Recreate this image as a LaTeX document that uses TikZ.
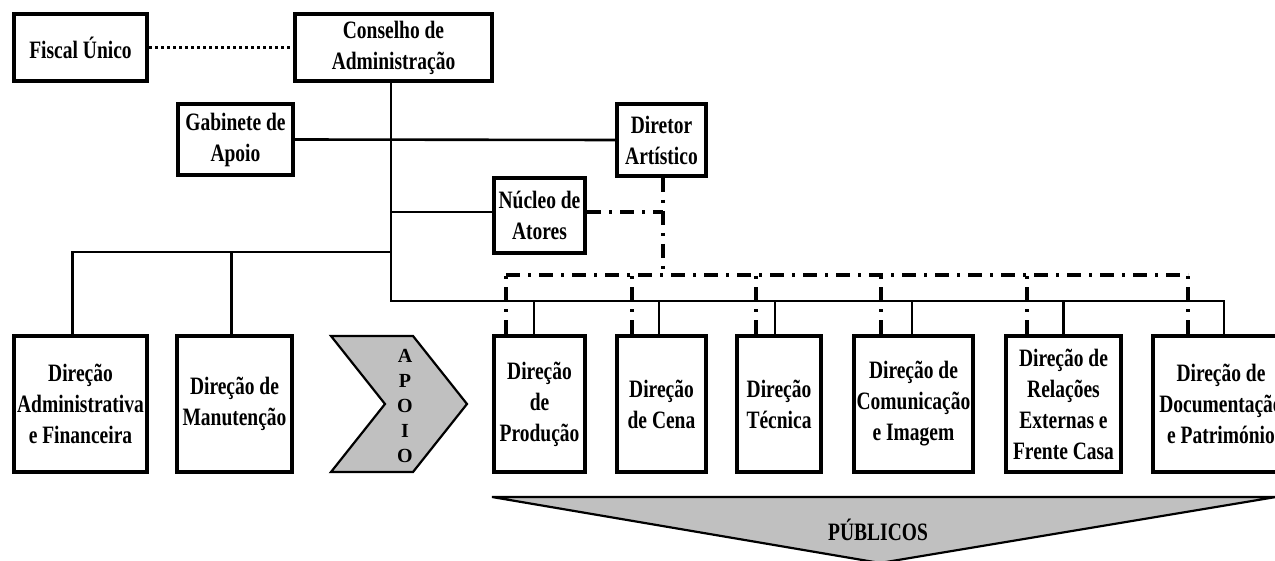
\documentclass[tikz,border=0pt]{standalone}
\usepackage{fontspec}
\setmainfont{Liberation Serif}[FakeStretch=0.78]
\newfontfamily\apoiofont{Liberation Serif}
\definecolor{apgray}{HTML}{C0C0C0}
\begin{document}
\begin{tikzpicture}[x=0.5pt,y=-0.5pt,
  box/.style={draw, line width=2pt, fill=white, inner sep=0pt, align=center,
    font=\bfseries\fontsize{12.5}{15.5}\selectfont},
  conn/.style={line width=1.3pt},
  dashdot/.style={line width=1.6pt, dash pattern=on 7pt off 4pt on 1.5pt off 4pt},
  dotline/.style={line width=1.7pt, dash pattern=on 1.5pt off 1.5pt},
  shapefill/.style={draw, line width=1.1pt, fill=apgray},
  lbl/.style={inner sep=0pt, align=center, font=\bfseries\fontsize{12.5}{15.5}\selectfont}]
\useasboundingbox (0,0) rectangle (1275,561);
\clip (0,0) rectangle (1275,561);

% top nodes
\node[box, minimum width=66.5pt, minimum height=33.5pt] (fiscal) at (80.5,47.5) {Fiscal Único};
\node[box, minimum width=98.5pt, minimum height=33.5pt] (conselho) at (393.5,47.5) {Conselho de\\Administração};
\node[box, minimum width=57.5pt, minimum height=35.5pt] (gabinete) at (235.5,139.5) {Gabinete de\\Apoio};
\node[box, minimum width=44.5pt, minimum height=36pt] (diretor) at (661.5,140) {Diretor\\Artístico};
\node[box, minimum width=45.5pt, minimum height=37.5pt] (nucleo) at (539.5,215.5) {Núcleo de\\Atores};

% bottom nodes
\node[box, minimum width=66.5pt, minimum height=68pt] (admin) at (80.5,404) {Direção\\Administrativa\\e Financeira};
\node[box, minimum width=57.5pt, minimum height=68pt] (manut) at (234.5,404) {Direção de\\Manutenção};
\node[box, minimum width=45.5pt, minimum height=68pt] (prod) at (539.5,404) {Direção\\de\\Produção};
\node[box, minimum width=44.5pt, minimum height=68pt] (cena) at (661.5,404) {Direção\\de Cena};
\node[box, minimum width=42pt, minimum height=68pt] (tecnica) at (779,404) {Direção\\Técnica};
\node[box, minimum width=59.5pt, minimum height=68pt] (comunic) at (913.5,404) {Direção de\\Comunicação\\e Imagem};
\node[box, minimum width=57.5pt, minimum height=68pt] (relac) at (1063.5,404) {Direção de\\Relações\\Externas e\\Frente Casa};
\node[box, minimum width=68pt, minimum height=68pt] (doc) at (1221,404) {Direção de\\Documentação\\e Património};

% helper coordinates
\coordinate (bus) at (391,301);
\coordinate (busL) at (391,252);
\coordinate (dbusL) at (506,275);
\coordinate (dbusR) at (1188,275);
\coordinate (dirdrop) at ([xshift=0.75pt]diretor.south);

% solid connectors
\draw[dotline] (fiscal.east) -- (conselho.west);
\draw[conn] ([xshift=-1.25pt]conselho.south) -- (bus) -| ([xshift=1.5pt]doc.north);
\draw[conn] (gabinete.east) -- (diretor.west);
\draw[conn] ([yshift=1.75pt]nucleo.west -| bus) -- ([yshift=1.75pt]nucleo.west);
\draw[conn] ([xshift=-4pt]admin.north) |- (busL);
\draw[conn] ([xshift=-1.5pt]manut.north) -- ([xshift=-1.5pt]manut.north |- busL);
\foreach \n/\s in {prod/-2.75, cena/-1.25, tecnica/-2, comunic/-0.75, relac/0}
  \draw[conn] ([xshift=\s pt]\n.north) -- ([xshift=\s pt]\n.north |- bus);

% dash-dot connectors
\draw[dashdot] (dbusL) -- (dbusR);
\draw[dashdot] (dirdrop) -- (dirdrop |- dbusL);
\draw[dashdot] ([yshift=1.75pt]nucleo.east) -- ([yshift=1.75pt]dirdrop |- nucleo.east);
\foreach \n/\s in {prod/-16.75, cena/-14.75, tecnica/-11.5, comunic/-16.25, relac/-18.25, doc/-16.5}
  \draw[dashdot] ([xshift=\s pt]\n.north) -- ([xshift=\s pt]\n.north |- dbusL);

% APOIO chevron
\draw[shapefill] (331,336) -- (413,336) -- (467,404) -- (413,472) -- (331,472) -- (385,404) -- cycle;
\node[inner sep=0pt, align=center, font=\apoiofont\bfseries\fontsize{10}{12.5}\selectfont] (apoio) at (405,406) {A\\P\\O\\I\\O};

% PUBLICOS triangle
\draw[shapefill] (492,497) -- (1276,497) -- (880,563) -- cycle;
\node[lbl] (publicos) at (878,530) {PÚBLICOS};
\end{tikzpicture}
\end{document}
